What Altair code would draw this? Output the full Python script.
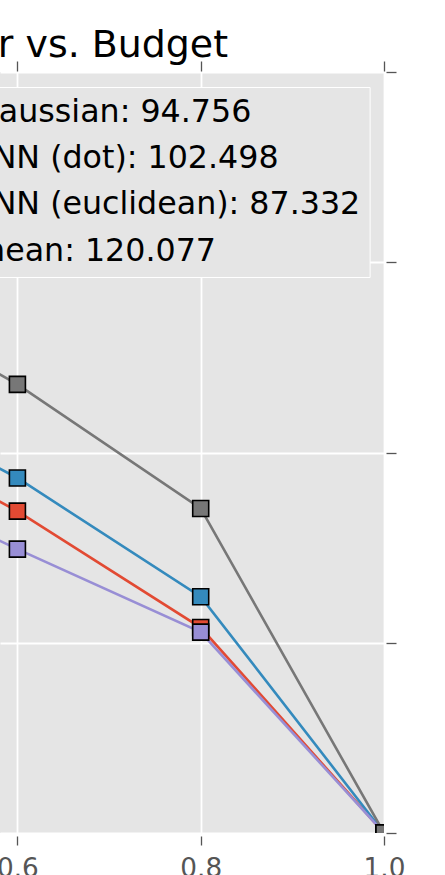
import altair as alt
import pandas as pd

# Budget fractions and per-method error values
budget = [0.4, 0.6, 0.8, 1.0]
series_names = ["Gaussian", "kNN (dot)", "kNN (euclidean)", "mean"]
series_scores = ["94.756", "102.498", "87.332", "120.077"]
series_colors = ["#E24A33", "#348ABD", "#988ED5", "#777777"]
gaussian_err = [110.2, 84.6, 54.0, 0.0]
knn_dot_err = [119.0, 93.3, 62.1, 0.0]
knn_euc_err = [97.5, 74.6, 52.8, 0.0]
mean_err = [145.0, 117.9, 85.3, 0.0]
x_ticks = [0.6, 0.8, 1.0]
y_ticks = [0, 50, 100, 150, 200]

labels = [f"{n}: {s}" for n, s in zip(series_names, series_scores)]
errors = [gaussian_err, knn_dot_err, knn_euc_err, mean_err]

rows = []
for lab, errs in zip(labels, errors):
    for b, e in zip(budget, errs):
        rows.append({"budget": b, "error": e, "label": lab})
df = pd.DataFrame(rows)

FONT = "DejaVu Sans"
TICK = "#555555"

xscale = alt.Scale(domain=[0.581, 1.0], nice=False, zero=False)
yscale = alt.Scale(domain=[0, 200], nice=False, zero=False)

y_axis = alt.Axis(
    orient="right", values=y_ticks, labels=False, title=None, domain=False,
    ticks=True, tickSize=10, tickColor=TICK, tickWidth=1.3, offset=2,
    grid=True, gridColor="white", gridWidth=1.8,
)

legend = alt.Legend(
    orient="none", legendX=-76.4, legendY=15, direction="vertical", title=None,
    labelFont=FONT, labelFontSize=31.7, labelColor="black", labelLimit=800,
    labelOffset=10, symbolType="square", symbolSize=225, symbolStrokeColor="black",
    symbolStrokeWidth=1.3, padding=9, rowPadding=13.3, fillColor="#E5E5E5",
    strokeColor="white", cornerRadius=0,
)

color = alt.Color(
    "label:N", scale=alt.Scale(domain=labels, range=series_colors),
    sort=labels, legend=legend,
)

lines = alt.Chart(df).mark_line(clip=True, strokeWidth=2.6).encode(
    x=alt.X(
        "budget:Q", scale=xscale,
        axis=alt.Axis(
            orient="bottom", values=x_ticks, format=".1f", title=None,
            domain=False, tickSize=9, tickColor=TICK, tickWidth=1.3, offset=3,
            labelFont=FONT, labelFontSize=26.3, labelColor=TICK,
            labelPadding=10, labelFlush=False, labelOverlap=False,
            grid=True, gridColor="white", gridWidth=1.8,
        ),
    ),
    y=alt.Y("error:Q", scale=yscale, axis=y_axis),
    color=color,
)

points = alt.Chart(df).mark_square(
    clip=True, size=256, filled=True, opacity=1, stroke="black", strokeWidth=1.6
).encode(
    x=alt.X(
        "budget:Q", scale=xscale,
        axis=alt.Axis(
            orient="top", values=x_ticks, labels=False, title=None,
            domain=False, tickSize=10, tickColor=TICK, tickWidth=1.3, offset=1,
            grid=False,
        ),
    ),
    y=alt.Y("error:Q", scale=yscale, axis=y_axis),
    color=color,
)

chart = (
    alt.layer(lines, points)
    .resolve_axis(x="independent")
    .properties(
        width=384,
        height=761,
        padding={"left": 0, "top": 72, "right": 61, "bottom": 42},
        autosize=alt.AutoSizeParams(type="none"),
        background="white",
        title=alt.TitleParams(
            text="Error vs. Budget", anchor="end", frame="group", dx=-156,
            dy=39, offset=4, baseline="alphabetic", font=FONT, fontSize=37.9,
            fontWeight="normal", color="black",
        ),
    )
    .configure_view(fill="#E5E5E5", stroke=None)
)

chart.save("out.html", embed_options={"renderer": "svg", "actions": False})
